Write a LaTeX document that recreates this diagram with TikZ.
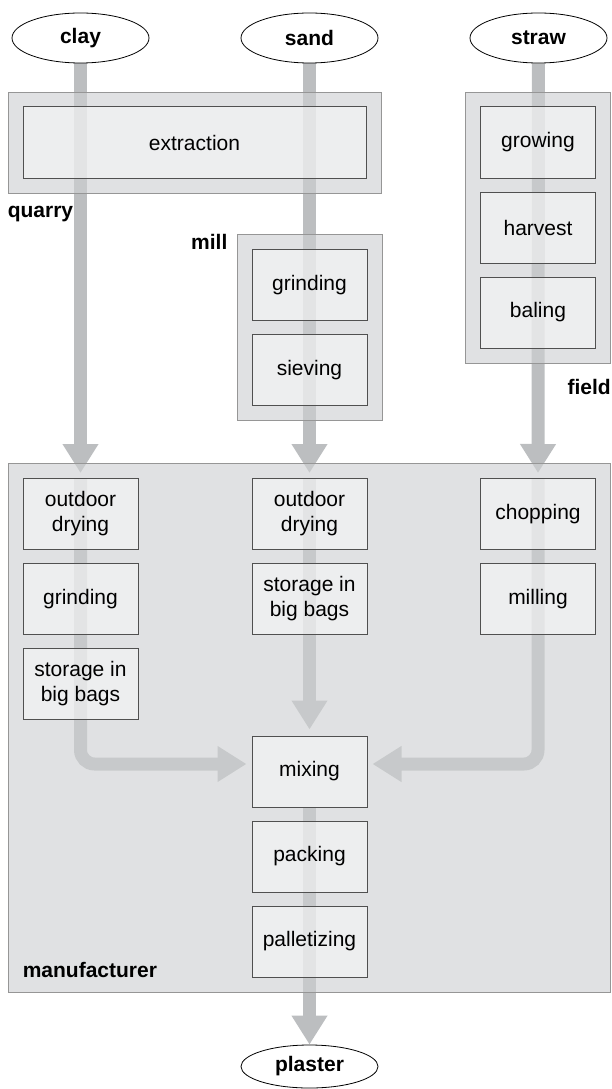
\documentclass[tikz,border=0pt]{standalone}
\usepackage{fontspec}
\setmainfont{Liberation Sans}
\usetikzlibrary{arrows.meta,positioning,shapes.geometric,fit,backgrounds,calc}
\definecolor{flowgray}{RGB}{188,190,192}
\definecolor{groupgray}{RGB}{206,208,210}
\definecolor{boxgray}{RGB}{247,247,247}
\definecolor{boxline}{RGB}{80,80,80}
\definecolor{groupline}{RGB}{150,150,150}
\pgfdeclarelayer{flow}
\pgfdeclarelayer{group}
\pgfsetlayers{flow,group,main}

\begin{document}
\begin{tikzpicture}[
  x=1pt, y=-1pt,
  node distance=13pt,
  stage/.style={rectangle,draw=boxline,line width=1pt,fill=boxgray,fill opacity=0.6,text opacity=1,minimum width=115pt,minimum height=71pt,align=center,font=\fontsize{21}{25}\selectfont},
  material/.style={ellipse,draw,line width=0.8pt,fill=white,minimum width=137pt,minimum height=50pt,inner sep=0pt,font=\fontsize{21}{25}\selectfont\bfseries},
  group/.style={rectangle,draw=groupline,line width=0.8pt,fill=groupgray,fill opacity=0.63,inner sep=14.5pt},
  grouplbl/.style={inner sep=0pt,font=\fontsize{21}{25}\selectfont\bfseries},
  flow/.style={draw=flowgray,line width=13pt,-{Triangle[width=34pt,length=29pt]}},
]
\useasboundingbox (0,0) rectangle (611,1089);

% raw materials
\node[material] (clay) at (80.5,38) {clay};
\node[material] (sand) at (309.5,38) {sand};
\node[material] (straw) at (538.5,38) {straw};

% suppliers
\node[stage,minimum width=343pt] (extract) at (194.5,142.5) {extraction};
\node[stage] (grindm) at (309.5,285) {grinding};
\node[stage,below=of grindm] (sieve) {sieving};
\node[stage] (grow) at (538,142.5) {growing};
\node[stage,below=of grow] (harvest) {harvest};
\node[stage,below=of harvest] (bale) {baling};

% manufacturer
\node[stage] (odry1) at (80.5,514) {outdoor\\drying};
\node[stage,below=of odry1] (grind1) {grinding};
\node[stage,below=of grind1] (stor1) {storage in\\big bags};
\node[stage] (odry2) at (309.5,514) {outdoor\\drying};
\node[stage,below=of odry2] (stor2) {storage in\\big bags};
\node[stage] (chop) at (538,514) {chopping};
\node[stage,below=of chop] (milling) {milling};
\node[stage] (mixing) at (309.5,771.5) {mixing};
\node[stage,below=of mixing] (packing) {packing};
\node[stage,below=of packing] (pallet) {palletizing};

\node[material,minimum height=43pt] (plaster) at (309.5,1066.5) {plaster};

\begin{pgfonlayer}{group}
\node[group,fit=(extract)] (quarry) {};
\node[group,fit=(grindm)(sieve)] (mill) {};
\node[group,fit=(grow)(bale)] (field) {};
\node[group,fit=(odry1)(chop)(pallet)] (manuf) {};
\end{pgfonlayer}

\node[grouplbl,anchor=base west] (quarrylbl) at ([yshift=-24pt]quarry.south west) {quarry};
\node[grouplbl,anchor=base east] (milllbl) at ([shift={(-9pt,-15pt)}]mill.north west) {mill};
\node[grouplbl,anchor=base east] (fieldlbl) at ([yshift=-31pt]field.south east) {field};
\node[grouplbl,anchor=base west] (manuflbl) at ([shift={(15pt,15pt)}]manuf.south west) {manufacturer};

\coordinate (mixin1) at ([shift={(-5pt,7.5pt)}]mixing.west);
\coordinate (mixin2) at ([shift={(5pt,7.5pt)}]mixing.east);

\begin{pgfonlayer}{flow}
\draw[flow] (clay) -- ([yshift=5pt]odry1.north);
\draw[flow] (sand) -- ([yshift=5pt]odry2.north);
\draw[flow] (straw) -- ([yshift=5pt]chop.north);
\draw[flow,rounded corners=14pt] (odry1.north) |- (mixin1);
\draw[flow] (odry2.north) -- ([yshift=6pt]mixing.north);
\draw[flow,rounded corners=14pt] (chop.north) |- (mixin2);
\draw[flow] (mixing.south) -- (plaster);
\end{pgfonlayer}
\end{tikzpicture}
\end{document}
